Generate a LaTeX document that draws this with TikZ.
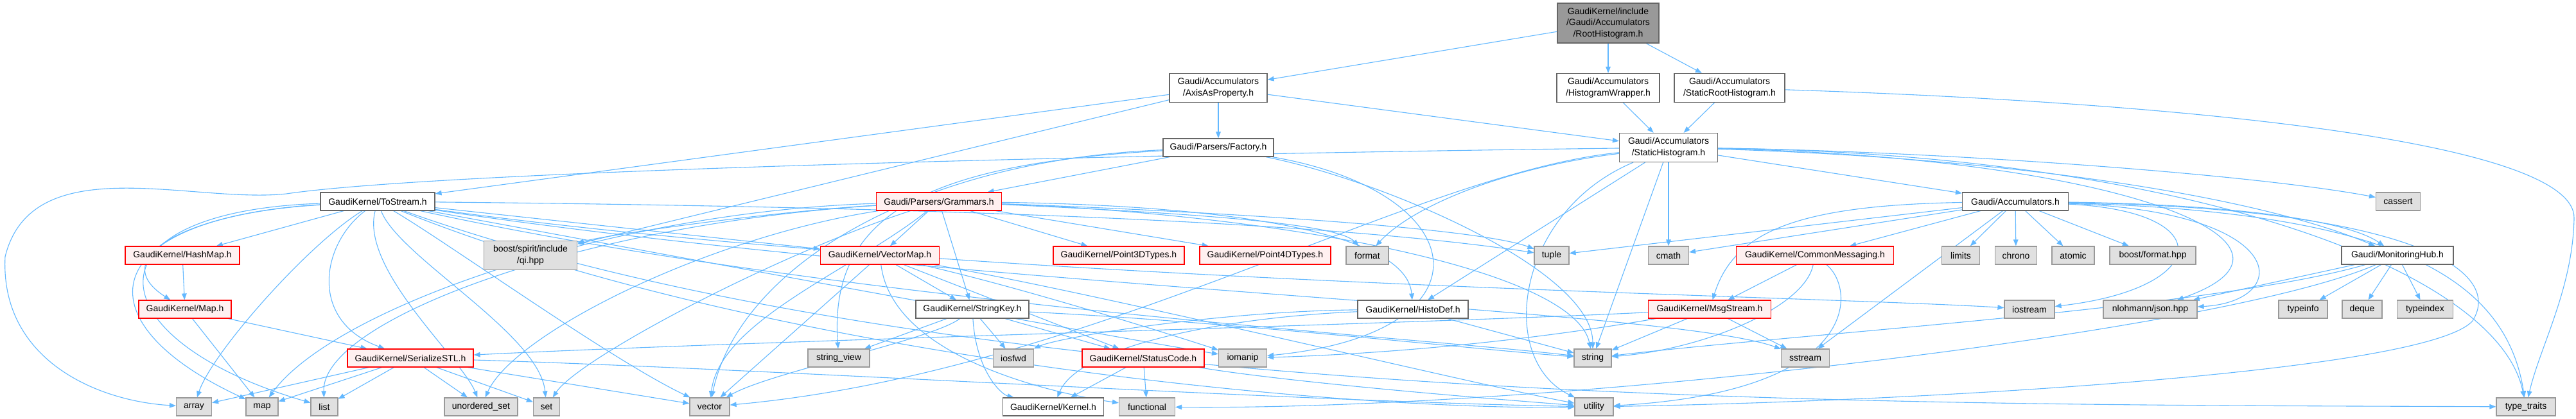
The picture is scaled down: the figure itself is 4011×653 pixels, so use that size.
\documentclass[tikz,border=0pt]{standalone}
\usepackage{fontspec}
\setmainfont{Liberation Sans}
\usetikzlibrary{arrows.meta}
\definecolor{edgeblue}{HTML}{63B8FF}
\definecolor{sysfill}{HTML}{E0E0E0}
\definecolor{sysdraw}{HTML}{999999}
\definecolor{usrdraw}{HTML}{666666}
\definecolor{redfill}{HTML}{FFF0F0}
\definecolor{topfill}{HTML}{999999}
\pgfdeclarelayer{bg}
\pgfsetlayers{bg,main}
\tikzset{
  base/.style={draw, inner sep=0pt, font=\fontsize{7}{8.7}\selectfont, align=center, line width=0.6pt, minimum height=14pt},
  wbox/.style={base, fill=white, draw=usrdraw},
  gbox/.style={base, fill=sysfill, draw=sysdraw},
  rbox/.style={base, fill=redfill, draw=red},
  tbox/.style={base, fill=topfill, draw=usrdraw},
  ed/.style={draw=edgeblue, line width=0.55pt, -{Triangle[length=5pt,width=3.8pt]}},
}
\begin{document}
\begin{tikzpicture}[x=0.5pt,y=-0.5pt]
\useasboundingbox (0,0) rectangle (4011,653);
% nodes
\node[tbox, minimum width=79pt, minimum height=31pt] (R) at (2504,36) {GaudiKernel/include\\/Gaudi/Accumulators\\/RootHistogram.h};
\node[wbox, minimum width=76pt, minimum height=22.5pt] (AP) at (1897,137) {Gaudi/Accumulators\\/AxisAsProperty.h};
\node[wbox, minimum width=80pt, minimum height=22.5pt] (HW) at (2504,137) {Gaudi/Accumulators\\/HistogramWrapper.h};
\node[wbox, minimum width=86pt, minimum height=22.5pt] (SRH) at (2693,137) {Gaudi/Accumulators\\/StaticRootHistogram.h};
\node[wbox, minimum width=86pt] (F) at (1897,230) {Gaudi/Parsers/Factory.h};
\node[wbox, minimum width=76.5pt, minimum height=22.5pt] (SH) at (2598,230) {Gaudi/Accumulators\\/StaticHistogram.h};
\node[wbox, minimum width=89pt] (TS) at (588,314) {GaudiKernel/ToStream.h};
\node[rbox, minimum width=97.5pt] (G) at (1462,314) {Gaudi/Parsers/Grammars.h};
\node[wbox, minimum width=82.5pt] (ACC) at (3138,314) {Gaudi/Accumulators.h};
\node[gbox, minimum width=34.5pt] (CA) at (3734,314) {cassert};
\node[rbox, minimum width=89pt] (HM) at (284,398) {GaudiKernel/HashMap.h};
\node[gbox, minimum width=72.5pt, minimum height=22.5pt] (QI) at (826,398) {boost/spirit/include\\/qi.hpp};
\node[rbox, minimum width=92.5pt] (VM) at (1370,398) {GaudiKernel/VectorMap.h};
\node[rbox, minimum width=102pt] (P3) at (1742,398) {GaudiKernel/Point3DTypes.h};
\node[rbox, minimum width=102pt] (P4) at (1970,398) {GaudiKernel/Point4DTypes.h};
\node[gbox, minimum width=33pt] (FMT) at (2129,398) {format};
\node[gbox, minimum width=27pt] (TU) at (2416,398) {tuple};
\node[gbox, minimum width=31.5pt] (CM) at (2598,398) {cmath};
\node[rbox, minimum width=122.5pt] (CMsg) at (2826,398) {GaudiKernel/CommonMessaging.h};
\node[gbox, minimum width=29.5pt] (LIM) at (3053,398) {limits};
\node[gbox, minimum width=32.5pt] (CHR) at (3139,398) {chrono};
\node[gbox, minimum width=33pt] (ATO) at (3228,398) {atomic};
\node[gbox, minimum width=67pt] (BF) at (3352,398) {boost/format.hpp};
\node[wbox, minimum width=87pt] (MH) at (3733,398) {Gaudi/MonitoringHub.h};
\node[rbox, minimum width=72pt] (MAPH) at (288,482) {GaudiKernel/Map.h};
\node[wbox, minimum width=88pt] (SK) at (1514,482) {GaudiKernel/StringKey.h};
\node[wbox, minimum width=86pt] (HD) at (2200,482) {GaudiKernel/HistoDef.h};
\node[rbox, minimum width=95.5pt] (MS) at (2662,482) {GaudiKernel/MsgStream.h};
\node[gbox, minimum width=39pt] (IOS) at (3160,482) {iostream};
\node[gbox, minimum width=73pt] (JSON) at (3348,482) {nlohmann/json.hpp};
\node[gbox, minimum width=38pt] (TI) at (3586,482) {typeinfo};
\node[gbox, minimum width=31pt] (DQ) at (3678,482) {deque};
\node[gbox, minimum width=43.5pt] (TIDX) at (3776,482) {typeindex};
\node[rbox, minimum width=98pt] (SSTL) at (639,558) {GaudiKernel/SerializeSTL.h};
\node[gbox, minimum width=48pt] (SV) at (1306,558) {string\_view};
\node[gbox, minimum width=31.5pt] (IOSF) at (1578,558) {iosfwd};
\node[rbox, minimum width=95pt] (SC) at (1780,558) {GaudiKernel/StatusCode.h};
\node[gbox, minimum width=37.5pt] (IOM) at (1935,558) {iomanip};
\node[gbox, minimum width=29pt] (STR) at (2480,558) {string};
\node[gbox, minimum width=37.5pt] (SS) at (2811,558) {sstream};
\node[gbox, minimum width=27.5pt] (ARR) at (302,634) {array};
\node[gbox, minimum width=25pt] (MAP) at (408,634) {map};
\node[gbox, minimum width=21pt] (LIST) at (505,634) {list};
\node[gbox, minimum width=57pt] (US) at (749,634) {unordered\_set};
\node[gbox, minimum width=20.5pt] (SET) at (851,634) {set};
\node[gbox, minimum width=31pt] (VEC) at (1105,634) {vector};
\node[wbox, minimum width=78.5pt] (KER) at (1640,634) {GaudiKernel/Kernel.h};
\node[gbox, minimum width=43.5pt] (FUN) at (1786,634) {functional};
\node[gbox, minimum width=30pt] (UT) at (2482,634) {utility};
\node[gbox, minimum width=46pt] (TT) at (3933,634) {type\_traits};
% edges
\begin{pgfonlayer}{bg}
\path[ed] (R) -- (AP);
\path[ed] (R) -- (HW);
\path[ed] (R) -- (SRH);
\path[ed] (HW) -- (SH);
\path[ed] (SRH) -- (SH);
\path[ed] (SRH) .. controls (3400,160) and (4010,220) .. (4008,340) .. controls (4006,450) and (3955,540) .. (TT);
\path[ed] (AP) -- (SH);
\path[ed] (AP) -- (F);
\path[ed] (AP) -- (TS);
\path[ed] (AP) -- (QI);
% Factory
\path[ed] (F) -- (G);
\path[ed] (F) .. controls (1450,255) and (1290,330) .. (SV);
\path[ed] (F) .. controls (1420,250) and (1150,420) .. (VEC);
\path[ed] (F) .. controls (2150,280) and (2480,420) .. (STR);
\path[ed] (F) .. controls (2300,300) and (2330,520) .. (IOM);
% StaticHistogram
\path[ed] (SH) -- (ACC);
\path[ed] (SH) -- (HD);
\path[ed] (SH) -- (STR);
\path[ed] (SH) -- (CM);
\path[ed] (SH) .. controls (2350,260) and (2200,320) .. (FMT);
\path[ed] (SH) .. controls (1800,240) and (700,265) .. (446,302) .. controls (300,318) and (50,230) .. (8,400) .. controls (0,560) and (150,625) .. (ARR);
\path[ed] (SH) .. controls (3000,235) and (3500,270) .. (CA);
\path[ed] (SH) .. controls (3100,245) and (3500,300) .. (MH);
\path[ed] (SH) .. controls (3300,245) and (3640,380) .. (JSON);
\path[ed] (SH) .. controls (3400,240) and (3890,420) .. (TT);
\path[ed] (SH) .. controls (2360,330) and (2330,560) .. (UT);
\path[ed] (SH) .. controls (2200,270) and (1700,580) .. (VEC);
% Accumulators
\path[ed] (ACC) -- (CMsg);
\path[ed] (ACC) -- (SS);
\path[ed] (ACC) -- (LIM);
\path[ed] (ACC) -- (CHR);
\path[ed] (ACC) -- (ATO);
\path[ed] (ACC) -- (BF);
\path[ed] (ACC) .. controls (2800,320) and (2700,360) .. (MS);
\path[ed] (ACC) -- (CM);
\path[ed] (ACC) -- (TU);
\path[ed] (ACC) .. controls (3460,330) and (3440,450) .. (IOS);
\path[ed] (ACC) .. controls (3570,330) and (3570,470) .. (JSON);
\path[ed] (ACC) .. controls (3450,318) and (3650,340) .. (MH);
\path[ed] (ACC) .. controls (3700,330) and (3900,420) .. (TT);
\path[ed] (ACC) .. controls (3750,325) and (3900,420) .. (3850,500) .. controls (3780,580) and (3000,625) .. (UT);
% MonitoringHub
\path[ed] (MH) -- (TI);
\path[ed] (MH) -- (DQ);
\path[ed] (MH) -- (TIDX);
\path[ed] (MH) -- (JSON);
\path[ed] (MH) .. controls (3450,480) and (2800,520) .. (STR);
\path[ed] (MH) .. controls (3450,520) and (2400,640) .. (FUN);
% CommonMessaging
\path[ed] (CMsg) -- (MS);
\path[ed] (CMsg) .. controls (2810,480) and (2650,545) .. (STR);
\path[ed] (CMsg) .. controls (2890,450) and (2900,610) .. (UT);
% MsgStream
\path[ed] (MS) -- (STR);
\path[ed] (MS) -- (SS);
\path[ed] (MS) .. controls (2200,505) and (1200,530) .. (SSTL);
\path[ed] (MS) .. controls (2300,545) and (2050,555) .. (IOM);
% HistoDef
\path[ed] (HD) -- (STR);
\path[ed] (HD) .. controls (1900,495) and (1680,540) .. (KER);
\path[ed] (HD) .. controls (1900,485) and (1650,525) .. (IOSF);
% Grammars
\path[ed] (G) -- (VM);
\path[ed] (G) -- (SK);
\path[ed] (G) -- (P3);
\path[ed] (G) -- (P4);
\path[ed] (G) .. controls (1800,330) and (2080,345) .. (FMT);
\path[ed] (G) .. controls (1900,330) and (2300,355) .. (TU);
\path[ed] (G) .. controls (1900,320) and (2190,360) .. (HD);
\path[ed] (G) .. controls (2000,335) and (2450,420) .. (STR);
\path[ed] (G) .. controls (1200,330) and (950,365) .. (QI);
\path[ed] (G) .. controls (950,330) and (520,480) .. (MAP);
\path[ed] (G) .. controls (900,350) and (500,500) .. (LIST);
\path[ed] (G) .. controls (1100,370) and (800,520) .. (US);
\path[ed] (G) .. controls (1200,400) and (900,560) .. (SET);
\path[ed] (G) .. controls (1330,420) and (1120,500) .. (VEC);
% VectorMap
\path[ed] (VM) -- (VEC);
\path[ed] (VM) .. controls (1390,560) and (1650,615) .. (FUN);
\path[ed] (VM) -- (SK);
\path[ed] (VM) -- (SC);
\path[ed] (VM) .. controls (1600,450) and (1850,530) .. (IOM);
\path[ed] (VM) .. controls (1700,455) and (2300,600) .. (UT);
% StringKey
\path[ed] (SK) -- (SV);
\path[ed] (SK) -- (IOSF);
\path[ed] (SK) .. controls (1520,580) and (1560,615) .. (KER);
\path[ed] (SK) -- (SC);
\path[ed] (SK) .. controls (1450,530) and (1200,580) .. (VEC);
\path[ed] (SK) .. controls (1900,500) and (2300,545) .. (STR);
% StatusCode
\path[ed] (SC) -- (KER);
\path[ed] (SC) -- (FUN);
\path[ed] (SC) .. controls (2000,595) and (2300,620) .. (UT);
% SerializeSTL
\path[ed] (SSTL) -- (ARR);
\path[ed] (SSTL) -- (MAP);
\path[ed] (SSTL) -- (LIST);
\path[ed] (SSTL) -- (US);
\path[ed] (SSTL) -- (SET);
\path[ed] (SSTL) -- (VEC);
\path[ed] (SSTL) .. controls (1200,575) and (2000,625) .. (UT);
% Map / HashMap
\path[ed] (MAPH) -- (MAP);
\path[ed] (MAPH) -- (SSTL);
\path[ed] (HM) -- (MAPH);
% ToStream
\path[ed] (TS) -- (HM);
\path[ed] (TS) .. controls (300,330) and (160,400) .. (MAPH);
\path[ed] (TS) .. controls (500,380) and (480,500) .. (SSTL);
\path[ed] (TS) -- (VM);
\path[ed] (TS) .. controls (480,380) and (330,550) .. (ARR);
\path[ed] (TS) .. controls (150,340) and (120,500) .. (MAP);
\path[ed] (TS) .. controls (120,330) and (150,530) .. (LIST);
\path[ed] (TS) .. controls (560,420) and (720,560) .. (US);
\path[ed] (TS) .. controls (620,400) and (840,520) .. (SET);
\path[ed] (TS) .. controls (700,380) and (950,560) .. (VEC);
\path[ed] (TS) .. controls (1000,390) and (1700,520) .. (IOM);
\path[ed] (TS) .. controls (1500,440) and (2800,460) .. (IOS);
\path[ed] (TS) .. controls (1500,450) and (2600,480) .. (SS);
\path[ed] (TS) .. controls (1300,470) and (2200,525) .. (STR);
\path[ed] (TS) .. controls (1200,320) and (2000,335) .. (TU);
\path[ed] (TS) .. controls (1500,640) and (3000,630) .. (TT);
\path[ed] (TS) .. controls (1200,560) and (2100,640) .. (UT);
\end{pgfonlayer}
\end{tikzpicture}
\end{document}
